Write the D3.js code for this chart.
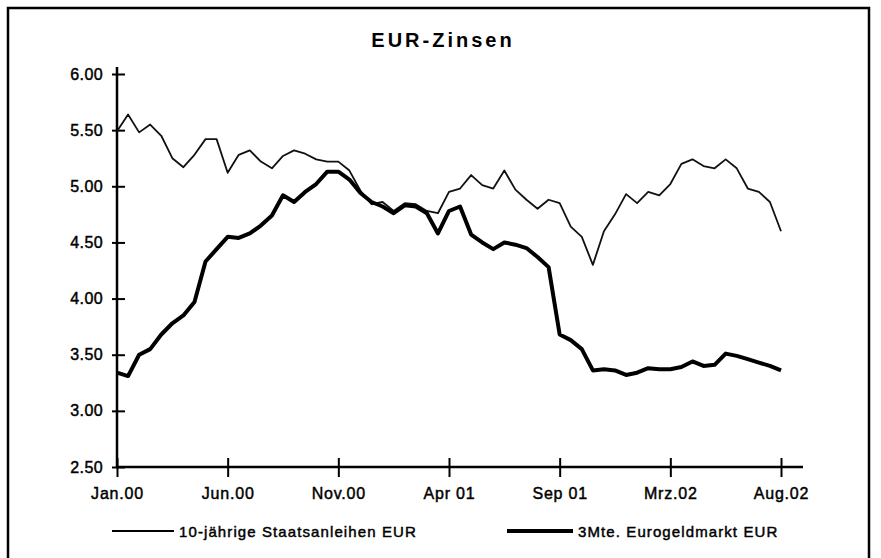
<!DOCTYPE html>
<html>
<head>
<meta charset="utf-8">
<script src="https://cdn.jsdelivr.net/npm/d3@7"></script>
<style>
  body { margin: 0; background: #fff; }
  svg { display: block; font-family: "Liberation Sans", Arial, sans-serif; }
</style>
</head>
<body>
<svg width="881" height="558"></svg>
<script>
// x labels sit at equal steps, data sampled every 0.1 step
const tickLabels = ['Jan.00', 'Jun.00', 'Nov.00', 'Apr 01', 'Sep 01', 'Mrz.02', 'Aug.02'];
const yTicks = [2.5, 3, 3.5, 4, 4.5, 5, 5.5, 6];
const sampleStep = 0.1;

const bund10y = [
  5.49, 5.64, 5.48, 5.55, 5.45, 5.25, 5.17, 5.28, 5.42, 5.42,
  5.12, 5.28, 5.32, 5.22, 5.16, 5.27, 5.32, 5.29, 5.24, 5.22,
  5.22, 5.14, 4.96, 4.84, 4.86, 4.78, 4.85, 4.84, 4.78, 4.76,
  4.95, 4.98, 5.10, 5.01, 4.98, 5.14, 4.97, 4.88, 4.80, 4.88,
  4.85, 4.64, 4.55, 4.30, 4.60, 4.75, 4.93, 4.85, 4.95, 4.92,
  5.02, 5.20, 5.24, 5.18, 5.16, 5.24, 5.16, 4.98, 4.95, 4.86,
  4.60
];
const euribor3m = [
  3.34, 3.31, 3.50, 3.55, 3.68, 3.78, 3.85, 3.97, 4.33, 4.44,
  4.55, 4.54, 4.58, 4.65, 4.74, 4.92, 4.86, 4.95, 5.02, 5.13,
  5.13, 5.06, 4.94, 4.86, 4.82, 4.76, 4.83, 4.82, 4.76, 4.58,
  4.78, 4.82, 4.57, 4.50, 4.44, 4.50, 4.48, 4.45, 4.37, 4.28,
  3.68, 3.63, 3.55, 3.36, 3.37, 3.36, 3.32, 3.34, 3.38, 3.37,
  3.37, 3.39, 3.44, 3.40, 3.41, 3.51, 3.49, 3.46, 3.43, 3.40,
  3.36
];
const seriesNames = ['10-jährige Staatsanleihen EUR', '3Mte. Eurogeldmarkt EUR'];

const svg = d3.select('svg');

// frame of the scanned page
svg.append('path')
  .attr('d', 'M8,570 V8 H869 V570')
  .attr('fill', 'none')
  .attr('stroke', '#000')
  .attr('stroke-width', 2.5);

svg.append('text')
  .attr('x', 443).attr('y', 47)
  .attr('text-anchor', 'middle')
  .attr('font-size', 20).attr('font-weight', 'bold')
  .attr('letter-spacing', 3)
  .text('EUR-Zinsen');

const x = d3.scaleLinear().domain([0, tickLabels.length - 1]).range([117, 781]);
const y = d3.scaleLinear().domain([2.5, 6]).range([467, 74]);

// scan look: text a bit heavier than regular
const heavy = sel => sel.attr('stroke', '#000').attr('stroke-width', 0.45);

// y axis
const gy = svg.append('g').attr('transform', 'translate(117,0)')
  .call(d3.axisLeft(y).tickValues(yTicks).tickFormat(d3.format('.2f')).tickSize(0).tickPadding(14));
gy.select('.domain').remove();
gy.selectAll('.tick').append('line').attr('x1', -5).attr('x2', 8).attr('stroke', '#000').attr('stroke-width', 2);
gy.selectAll('text').attr('font-size', 16).attr('letter-spacing', 0.4).attr('fill', '#000')
  .attr('font-family', '"Liberation Sans", Arial, sans-serif').call(heavy);
gy.append('line').attr('y1', 67).attr('y2', 468).attr('stroke', '#000').attr('stroke-width', 2.5);

// x axis
const gx = svg.append('g').attr('transform', 'translate(0,467)')
  .call(d3.axisBottom(x).tickValues(d3.range(tickLabels.length)).tickFormat(i => tickLabels[i]).tickSize(0).tickPadding(21));
gx.select('.domain').remove();
gx.selectAll('.tick').append('line').attr('y1', -9).attr('y2', 10).attr('stroke', '#000').attr('stroke-width', 2);
gx.selectAll('text').attr('font-size', 16).attr('fill', '#000').attr('letter-spacing', 0.8)
  .attr('font-family', '"Liberation Sans", Arial, sans-serif').call(heavy);
gx.append('line').attr('x1', 116).attr('x2', 803).attr('stroke', '#000').attr('stroke-width', 2.5);

const line = d3.line()
  .x((d, i) => x(i * sampleStep))
  .y(d => y(d));

svg.append('path').datum(bund10y)
  .attr('d', line).attr('fill', 'none')
  .attr('stroke', '#111').attr('stroke-width', 1.8).attr('stroke-linejoin', 'round');
svg.append('path').datum(euribor3m)
  .attr('d', line).attr('fill', 'none')
  .attr('stroke', '#000').attr('stroke-width', 4).attr('stroke-linejoin', 'round');

// legend
const legend = svg.append('g').attr('font-size', 15).attr('letter-spacing', 1.1);
const legendItems = [
  { name: seriesNames[0], x1: 112, x2: 174, w: 1.8 },
  { name: seriesNames[1], x1: 507, x2: 573, w: 4 }
];
legendItems.forEach(it => {
  legend.append('line').attr('x1', it.x1).attr('x2', it.x2).attr('y1', 531).attr('y2', 531)
    .attr('stroke', '#000').attr('stroke-width', it.w);
  legend.append('text').attr('x', it.x2 + 5).attr('y', 537).text(it.name).call(heavy);
});
</script>
</body>
</html>
